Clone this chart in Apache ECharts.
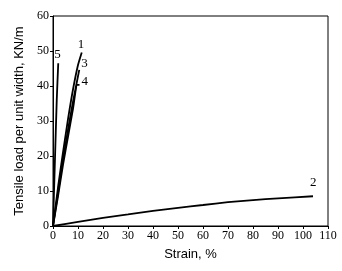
<!DOCTYPE html>
<html><head><meta charset="utf-8">
<script src="https://cdn.jsdelivr.net/npm/echarts@6/dist/echarts.min.js"></script>
<style>html,body{margin:0;padding:0;background:#fff}#c{width:342px;height:271px}</style>
</head><body><div id="c"></div>
<script>
const xTicks = [0,10,20,30,40,50,60,70,80,90,100,110];
const yTicks = [0,10,20,30,40,50,60];
const curve1 = [[0,0],[2,11],[4,21],[6,30.5],[8,39],[10,46],[11.5,49.6]];
const curve2 = [[0,0],[10,1.2],[20,2.3],[30,3.3],[40,4.3],[50,5.2],[60,6.0],[70,6.8],[80,7.4],[90,7.9],[104,8.5]];
const curve3 = [[0,0],[2,9.5],[4,19],[6,27.5],[8,35.5],[10.5,44.6]];
const curve4 = [[0,0],[2,8.5],[4,17.5],[6,25.5],[8,33.5],[9.7,40.3],[10.6,40.3]];
const curve5 = [[0,0],[0.7,17],[1.5,36],[2.1,46.5]];
const names = ['1','2','3','4','5'];
const labelOffsets = [[-6,-8],[-5,-14],[0,-6],[0,-3],[-6,-9]];

const chart = echarts.init(document.getElementById('c'));
const serif = 'Liberation Serif';
const sans = 'Liberation Sans';
const mk = (name, data, off) => ({
  name, type:'line', data, symbol:'none', smooth:0.2,
  lineStyle:{color:'#000', width:1.8},
  endLabel:{show:true, formatter:name, color:'#000', fontFamily:serif, fontSize:13, offset:off, distance:2},
  animation:false
});
chart.setOption({
  animation:false,
  grid:{left:53, right:14, top:16, bottom:45, show:true, borderColor:'#000', borderWidth:1},
  xAxis:{type:'value', min:0, max:110, interval:10,
    name:'Strain, %', nameLocation:'middle', nameGap:22,
    nameTextStyle:{fontFamily:sans, fontSize:13, color:'#000'},
    axisLine:{lineStyle:{color:'#000'}}, axisTick:{inside:false, length:3, lineStyle:{color:'#000'}},
    axisLabel:{fontFamily:serif, fontSize:12, color:'#000', margin:4, formatter:v=>xTicks.includes(v)?String(v):''},
    splitLine:{show:false}},
  yAxis:{type:'value', min:0, max:60, interval:10,
    name:'Tensile load per unit width, KN/m', nameLocation:'middle', nameGap:27,
    nameTextStyle:{fontFamily:sans, fontSize:13, color:'#000'},
    axisLine:{lineStyle:{color:'#000'}}, axisTick:{inside:false, length:3, lineStyle:{color:'#000'}},
    axisLabel:{fontFamily:serif, fontSize:12, color:'#000', margin:4, formatter:v=>yTicks.includes(v)?String(v):''},
    splitLine:{show:false}},
  series:[
    mk(names[0], curve1, labelOffsets[0]),
    mk(names[1], curve2, labelOffsets[1]),
    mk(names[2], curve3, labelOffsets[2]),
    mk(names[3], curve4, labelOffsets[3]),
    mk(names[4], curve5, labelOffsets[4])
  ]
});
</script></body></html>
